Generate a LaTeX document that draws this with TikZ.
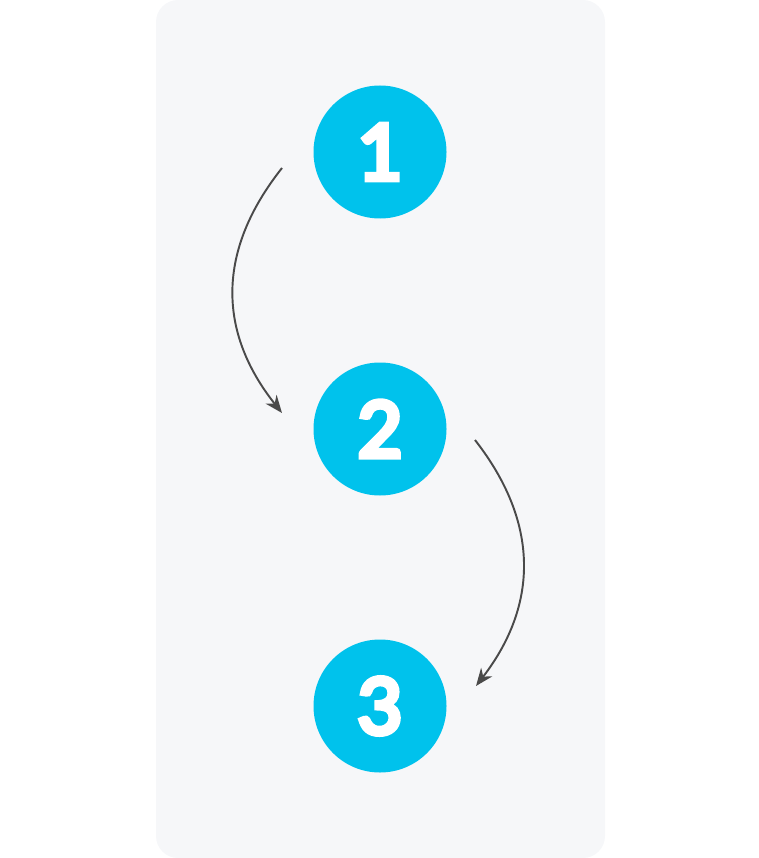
\documentclass[tikz,border=0pt]{standalone}
\usepackage{fontspec}
\setmainfont{Lato}
\newfontfamily\digitfont{Lato}[FakeBold=7]
\usepackage{xcolor}
\usepackage{tikz}
\usetikzlibrary{arrows.meta}

\definecolor{panelgray}{HTML}{F6F7F9}
\definecolor{stepcyan}{HTML}{00C2EC}
\definecolor{arrowgray}{HTML}{4A4A4A}

\newlength{\pxu}
\setlength{\pxu}{0.02cm}
\tikzset{
	stepdot/.style={circle, fill=stepcyan, minimum size=133\pxu, inner sep=0pt,
		text=white, font=\digitfont\fontsize{44}{44}\selectfont},
	flow/.style={draw=arrowgray, line width=1.1pt, -{Stealth[length=10pt, width=8pt]}}
}

\begin{document}
\begin{tikzpicture}[x=0.02cm, y=-0.02cm]
			\useasboundingbox (0,0) rectangle (759,858);
			\fill[panelgray, rounded corners=22\pxu] (156,0) rectangle (605,858);
			
			\foreach \i/\y in {
				1/152,
				2/429,
				3/706
			}{
				\node[stepdot] (n\i) at (380,\y) {\i};
			}
			
			\coordinate (a1) at (282,168);
			\coordinate (b1) at (282,413);
			\coordinate (a2) at (475,440);
			\coordinate (b2) at (476,686);
			
			\draw[flow] (a1) .. controls (217,250) and (217,331) .. (b1);
			\draw[flow] (a2) .. controls (539,522) and (539,604) .. (b2);
		\end{tikzpicture}
\end{document}
